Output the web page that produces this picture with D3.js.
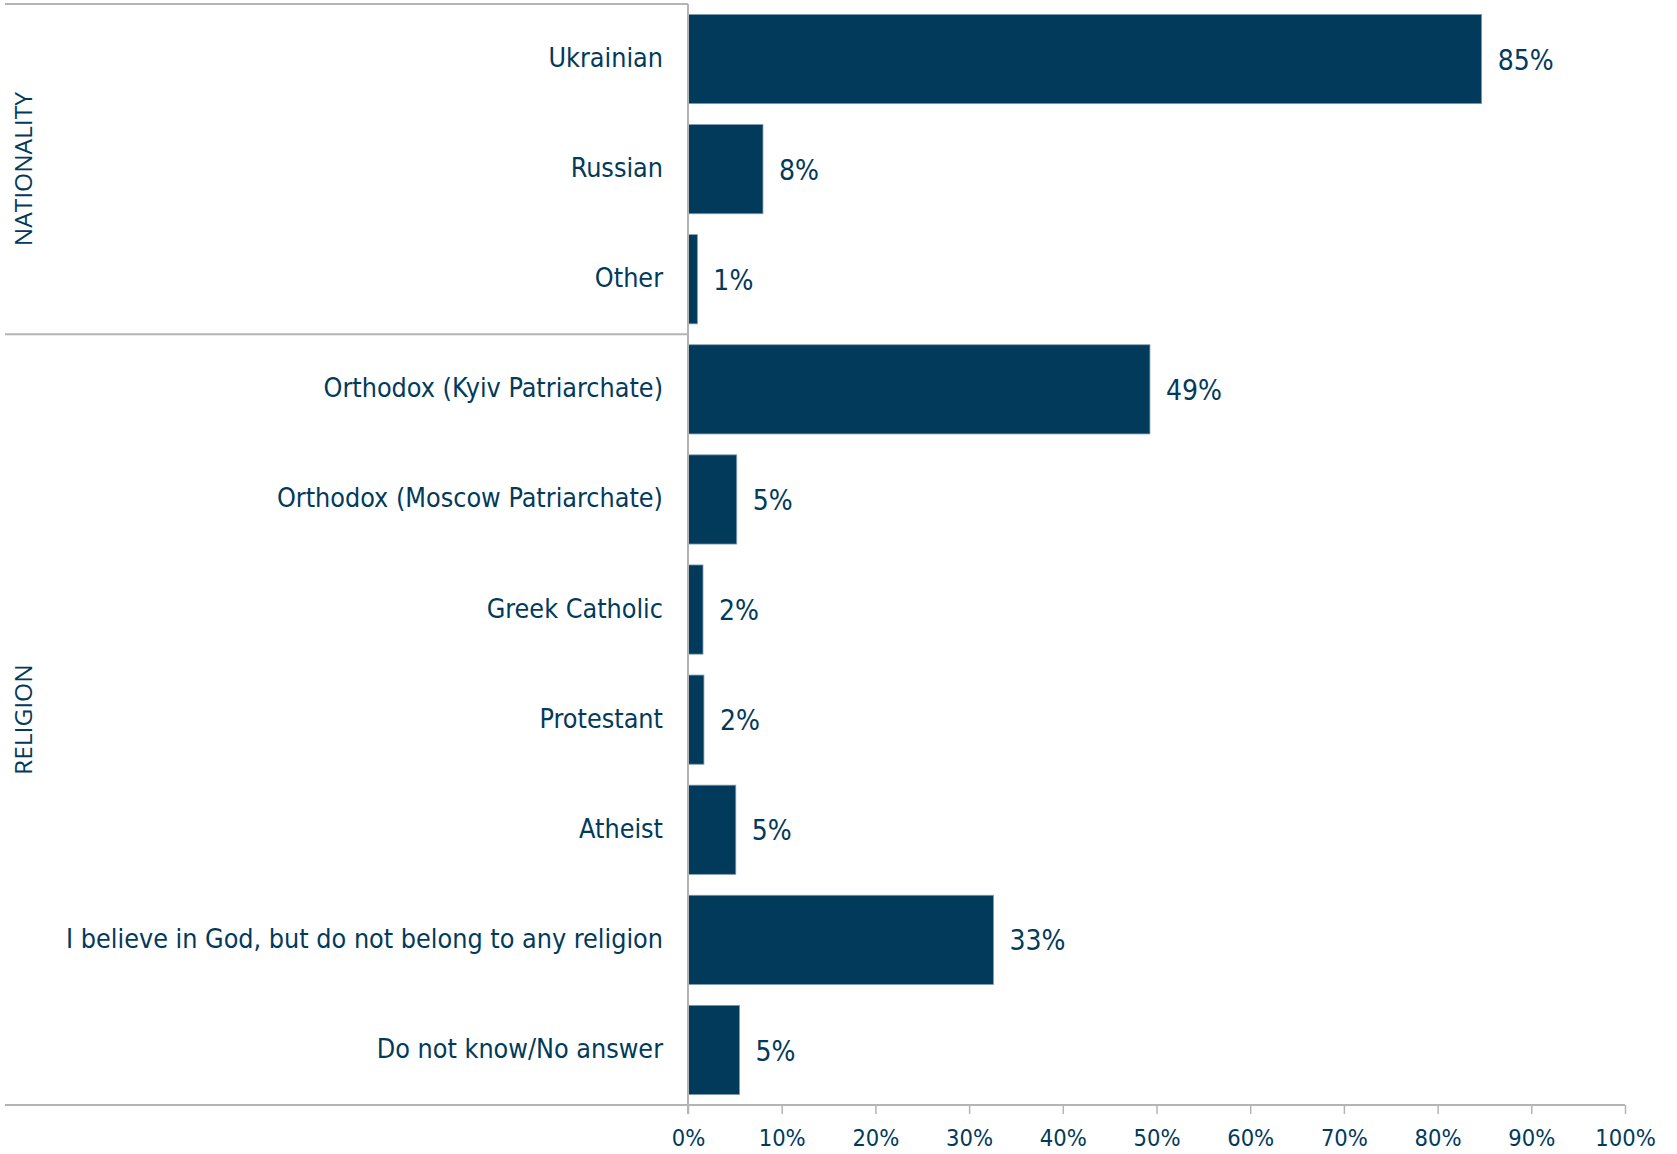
<!DOCTYPE html>
<html><head><meta charset="utf-8">
<script src="https://cdn.jsdelivr.net/npm/d3@7"></script>
<style>body{margin:0;background:#fff;}svg{display:block;}</style>
</head><body>
<svg id="c" width="1677" height="1154"></svg>
<script>
const categories = ["Ukrainian","Russian","Other","Orthodox (Kyiv Patriarchate)","Orthodox (Moscow Patriarchate)","Greek Catholic","Protestant","Atheist","I believe in God, but do not belong to any religion","Do not know/No answer"];
const values = [84.7, 8.0, 1.0, 49.3, 5.2, 1.6, 1.7, 5.1, 32.6, 5.5];
const valueLabels = ["85%","8%","1%","49%","5%","2%","2%","5%","33%","5%"];
const groups = ["NATIONALITY","RELIGION"];
const groupSizes = [3, 7];
const xTicks = [0,10,20,30,40,50,60,70,80,90,100];

const navy = "#023a5b", grid = "#b4b4b4";
const font = "'DejaVu Sans Condensed', 'DejaVu Sans', sans-serif";
const svg = d3.select("#c");
const x = d3.scaleLinear().domain([0,100]).range([688,1625]);
const y = d3.scaleBand().domain(categories).range([4,1105]).paddingInner(0.19).paddingOuter(0.095);

// bars
svg.append("g").selectAll("rect").data(categories).join("rect")
  .attr("x", x(0)).attr("y", d=>y(d))
  .attr("width", (d,i)=>x(values[i])-x(0)).attr("height", y.bandwidth())
  .attr("fill", navy).attr("stroke","#7f9bb0").attr("stroke-width",0.8);

// value labels
svg.append("g").selectAll("text").data(categories).join("text")
  .attr("x", (d,i)=>x(values[i])+16).attr("y", d=>y(d)+y.bandwidth()/2)
  .attr("dy","0.38em").attr("fill",navy).attr("font-family",font).attr("font-size",28)
  .text((d,i)=>valueLabels[i]);

// category labels
svg.append("g").selectAll("text").data(categories).join("text")
  .attr("x", 663).attr("y", d=>y(d)+y.bandwidth()/2)
  .attr("dy","0.3em").attr("text-anchor","end").attr("fill",navy).attr("font-family",font).attr("font-size",26.7)
  .text(d=>d);

// x axis
const xAxis = d3.axisBottom(x).tickValues(xTicks).tickFormat(d=>d+"%").tickSize(9).tickPadding(15);
const ax = svg.append("g").attr("transform","translate(0,1105)").call(xAxis);
ax.select(".domain").remove();
ax.selectAll(".tick line").attr("stroke",grid).attr("stroke-width",1.5);
ax.selectAll(".tick text").attr("fill",navy).attr("font-family",font).attr("font-size",23.5);

// frame lines
const edges = [0,3,10].map(i=> i===0 ? 4 : (i===10 ? 1105 : (y(categories[i-1])+y.bandwidth()+y(categories[i]))/2));
svg.append("line").attr("x1",5).attr("x2",x(0)).attr("y1",edges[0]).attr("y2",edges[0]).attr("stroke",grid).attr("stroke-width",2);
svg.append("line").attr("x1",5).attr("x2",x(0)).attr("y1",edges[1]).attr("y2",edges[1]).attr("stroke",grid).attr("stroke-width",2);
svg.append("line").attr("x1",5).attr("x2",x(100)).attr("y1",1105).attr("y2",1105).attr("stroke",grid).attr("stroke-width",2);
svg.append("line").attr("x1",x(0)).attr("x2",x(0)).attr("y1",4).attr("y2",1114).attr("stroke",grid).attr("stroke-width",2);

// group labels
groups.forEach((g,i)=>{
  const top = edges[i], bot = edges[i+1];
  const cy = (top+bot)/2;
  svg.append("text").attr("transform",`translate(32,${cy}) rotate(-90)`)
    .attr("text-anchor","middle").attr("fill",navy).attr("font-family","'Open Sans', sans-serif").attr("font-size",24.5)
    .text(g);
});
</script>
</body></html>
